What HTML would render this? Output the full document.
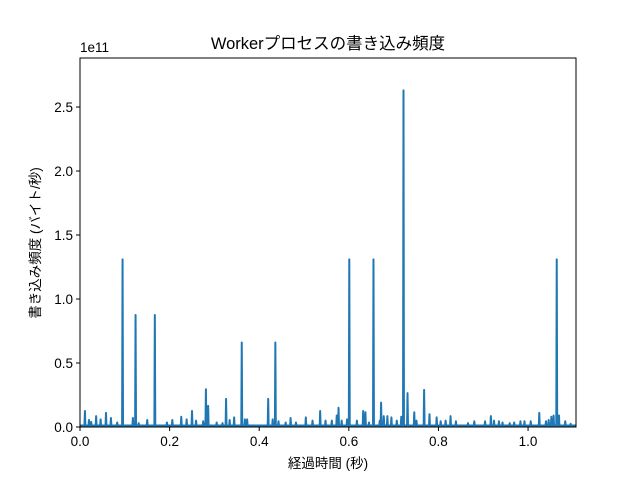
<!DOCTYPE html>
<html><head><meta charset="utf-8"><style>
body{margin:0;background:#fff}
svg{display:block;font-family:"Liberation Sans","DejaVu Sans","Noto Sans CJK JP",sans-serif}
</style></head><body>
<svg id="chart" width="640" height="480" viewBox="0 0 640 480" xmlns="http://www.w3.org/2000/svg">
<rect width="640" height="480" fill="#fff"/>
<g id="plot"></g>
<text x="328" y="49" text-anchor="middle" font-size="16.5" fill="#000">Workerプロセスの書き込み頻度</text>
<text x="80" y="52" font-size="13.5" fill="#000">1e11</text>
<text x="328" y="468" text-anchor="middle" font-size="13.5" fill="#000">経過時間 (秒)</text>
<text transform="translate(40,243) rotate(-90)" text-anchor="middle" font-size="13.5" fill="#000">書き込み頻度 (バイト/秒)</text>
</svg>
<script>
const times=[0.011,0.02,0.025,0.036,0.046,0.058,0.069,0.083,0.095,0.118,0.124,0.131,0.15,0.167,0.194,0.206,0.226,0.238,0.25,0.259,0.275,0.281,0.286,0.305,0.318,0.326,0.334,0.344,0.361,0.368,0.373,0.42,0.43,0.436,0.443,0.459,0.47,0.482,0.504,0.519,0.536,0.548,0.562,0.573,0.577,0.584,0.596,0.601,0.618,0.632,0.637,0.645,0.655,0.669,0.672,0.678,0.686,0.695,0.707,0.717,0.722,0.731,0.746,0.751,0.768,0.78,0.796,0.805,0.816,0.827,0.839,0.866,0.88,0.904,0.917,0.924,0.935,0.943,0.959,0.969,0.983,0.992,1.006,1.025,1.04,1.046,1.052,1.057,1.064,1.069,1.083,1.095];
const values=[0.125,0.055,0.04,0.085,0.06,0.11,0.07,0.035,1.31,0.07,0.875,0.03,0.055,0.875,0.035,0.055,0.08,0.06,0.125,0.05,0.045,0.295,0.165,0.035,0.03,0.22,0.055,0.075,0.66,0.06,0.06,0.22,0.06,0.66,0.045,0.035,0.07,0.035,0.075,0.05,0.125,0.05,0.05,0.09,0.15,0.05,0.06,1.31,0.05,0.125,0.115,0.035,1.31,0.05,0.19,0.085,0.085,0.075,0.05,0.08,2.63,0.265,0.115,0.05,0.29,0.1,0.075,0.045,0.05,0.085,0.045,0.03,0.045,0.045,0.085,0.05,0.045,0.035,0.03,0.035,0.045,0.045,0.045,0.11,0.045,0.055,0.08,0.09,1.31,0.09,0.045,0.025];
const baseline=0.012;
const xTicks=[0,0.2,0.4,0.6,0.8,1.0];
const xTickLabels=["0.0","0.2","0.4","0.6","0.8","1.0"];
const yTicks=[0,0.5,1.0,1.5,2.0,2.5];
const yTickLabels=["0.0","0.5","1.0","1.5","2.0","2.5"];
const L=80,R=576,T=58,B=427,XMAX=1.107,YMAX=2.883;
const sx=t=>L+t/XMAX*(R-L);
const sy=v=>B-v/YMAX*(B-T);
const NS="http://www.w3.org/2000/svg";
const plot=document.getElementById('plot');
function mk(tag,attrs){const e=document.createElementNS(NS,tag);for(const k in attrs)e.setAttribute(k,attrs[k]);return e;}
let d="M"+sx(0)+","+sy(baseline);
for(let i=0;i<times.length;i++){
 d+=" L"+sx(times[i]-0.001)+","+sy(baseline)+" L"+sx(times[i])+","+sy(values[i])+" L"+sx(times[i]+0.001)+","+sy(baseline);
}
d+=" L"+sx(XMAX)+","+sy(baseline);
const line=mk('path',{d:d,fill:'none',stroke:'#1f77b4','stroke-width':2,'stroke-linejoin':'round'});


plot.appendChild(line);
const frame=mk('rect',{x:L,y:T,width:R-L,height:B-T,fill:'none',stroke:'#000','stroke-width':1});


plot.appendChild(frame);
xTicks.forEach((t,i)=>{
 const x=sx(t);
 const tk=mk('line',{x1:x,x2:x,y1:B,y2:B+4,stroke:'#000'});
 
 
 plot.appendChild(tk);
 const tx=mk('text',{x:x,y:B+19,'text-anchor':'middle','font-size':13.5});
 
 
 tx.textContent=xTickLabels[i];plot.appendChild(tx);
});
yTicks.forEach((v,i)=>{
 const y=sy(v);
 const tk=mk('line',{x1:L-4,x2:L,y1:y,y2:y,stroke:'#000'});
 
 
 plot.appendChild(tk);
 const tx=mk('text',{x:L-7,y:y+5,'text-anchor':'end','font-size':13.5});
 
 
 tx.textContent=yTickLabels[i];plot.appendChild(tx);
});
</script>
</body></html>
